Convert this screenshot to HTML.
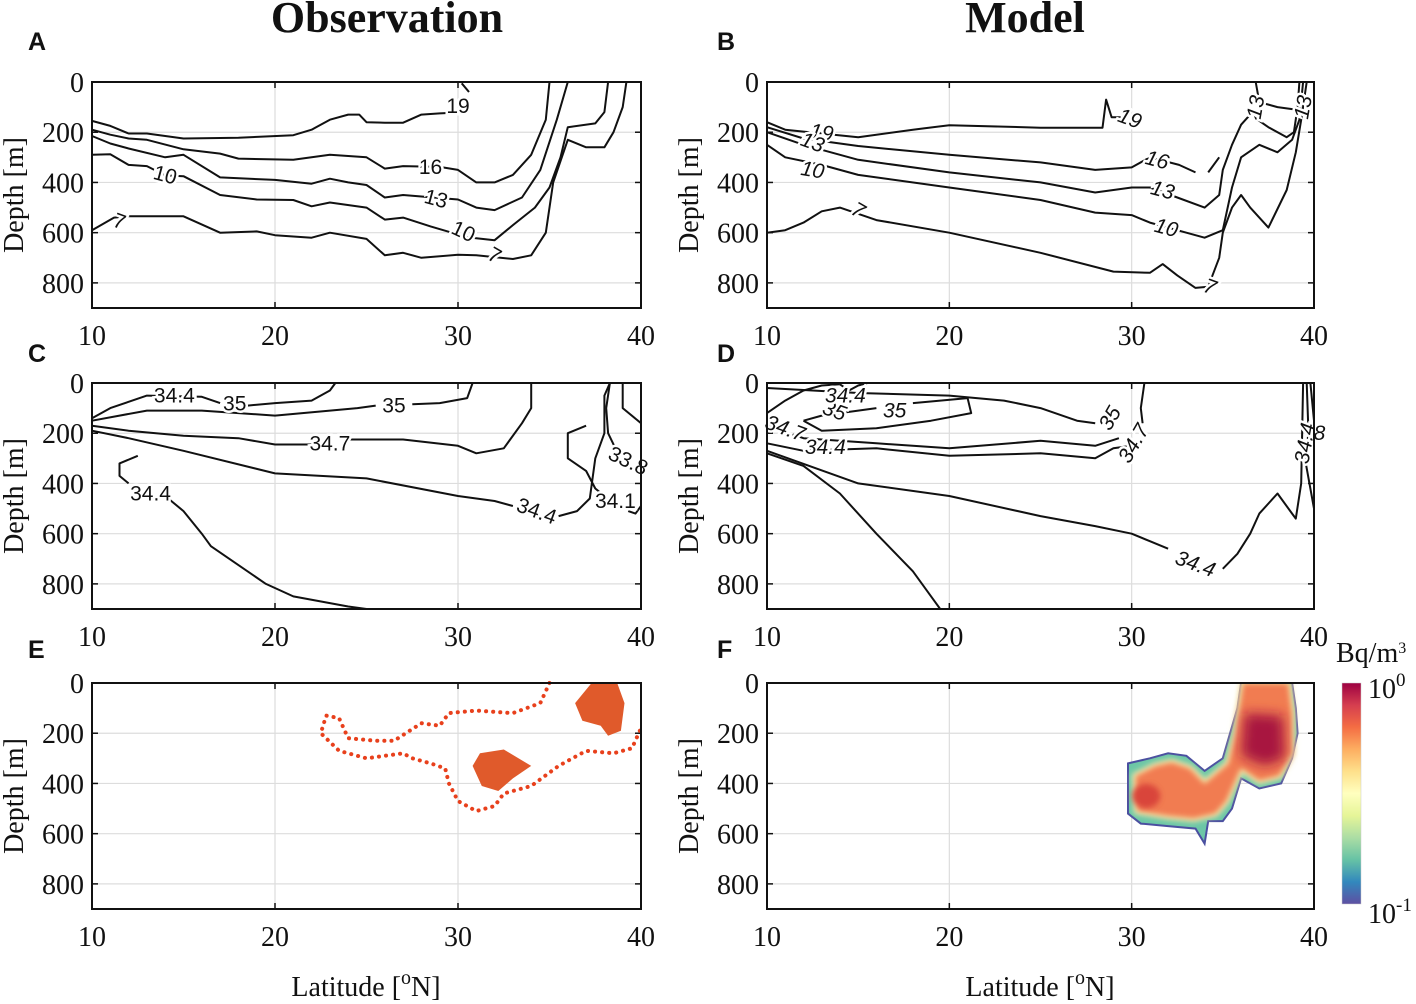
<!DOCTYPE html>
<html><head><meta charset="utf-8">
<style>
html,body{margin:0;padding:0;background:#fff;}
svg{display:block;}
.tk{font-family:"Liberation Serif",serif;font-size:28px;fill:#111;}
.ttl{font-family:"Liberation Serif",serif;font-size:44px;font-weight:bold;fill:#111;}
.let{font-family:"Liberation Sans",sans-serif;font-size:25px;font-weight:bold;fill:#111;}
.cl{font-family:"Liberation Sans",sans-serif;font-size:21px;fill:#111;stroke:#fff;stroke-width:5px;paint-order:stroke;}
.cm{font-style:italic;}
</style></head>
<body>
<svg id="fig" width="1416" height="1004" viewBox="0 0 1416 1004" xmlns="http://www.w3.org/2000/svg">
<defs>
<linearGradient id="spec" x1="0" y1="0" x2="0" y2="1">
<stop offset="0" stop-color="#9e0142"/><stop offset="0.1" stop-color="#d53e4f"/><stop offset="0.2" stop-color="#f46d43"/><stop offset="0.3" stop-color="#fdae61"/><stop offset="0.4" stop-color="#fee08b"/><stop offset="0.5" stop-color="#ffffbf"/><stop offset="0.6" stop-color="#e6f598"/><stop offset="0.7" stop-color="#abdda4"/><stop offset="0.8" stop-color="#66c2a5"/><stop offset="0.9" stop-color="#3288bd"/><stop offset="1" stop-color="#5e4fa2"/>
</linearGradient>
<filter id="bl3" x="-20%" y="-20%" width="140%" height="140%"><feGaussianBlur stdDeviation="3"/></filter>
<filter id="bl6" x="-30%" y="-30%" width="160%" height="160%"><feGaussianBlur stdDeviation="6"/></filter>
<clipPath id="clipF"><rect x="767" y="683" width="547" height="226"/></clipPath>
</defs>
<text class="ttl" x="387" y="32" text-anchor="middle">Observation</text>
<text class="ttl" x="1025" y="32" text-anchor="middle">Model</text>
</svg>
<script>
const latTicks=[10,20,30,40];
const depthTicks=[0,200,400,600,800];

const contA={
 c19:[[10,155],[11,175],[12,205],[13,205],[15,225],[18,222],[21,212],[22,190],[23,150],[24,130],[24.6,130],[25,160],[26,162],[27,162],[28,130],[29,125],[30.5,120]],
 c19b:[[30.2,5],[30.6,40]],
 c16:[[10,190],[11,210],[12,225],[13,230],[15,268],[17,285],[18,305],[21,310],[23,290],[25,300],[26,345],[27,335],[29,338],[30,350],[31,400],[32,400],[33,370],[34,290],[34.8,150],[35,0]],
 c13:[[10,215],[11,245],[12,265],[14,300],[15,290],[17,380],[20,390],[22,405],[23,385],[24,400],[25,410],[26,460],[27,450],[30,468],[31,500],[32,510],[33.5,460],[34.5,350],[35.4,150],[36,0]],
 c10:[[10,290],[11,288],[12,330],[13,335],[14,372],[15,375],[17,450],[19,468],[21,470],[22,495],[23,480],[25,500],[26,548],[27,540],[28.5,575],[30.5,618],[32,630],[33,570],[34.2,500],[35,420],[35.6,300],[36,180],[37.5,165],[38,120],[38.2,0]],
 c7:[[10,590],[11.2,540],[12,535],[15,535],[17,600],[19,595],[20,610],[22,620],[23,600],[25,625],[26,690],[27,680],[28,700],[30,688],[31,690],[33,705],[34,690],[34.8,600],[35.2,400],[36,230],[37,260],[38,260],[38.5,200],[39,100],[39.2,0]]
};
const labA=[[30,95,"19",0],[28.5,338,"16",0],[28.8,465,"13",15],[30.3,595,"10",25],[32,690,"7",30],[14,370,"10",15],[11.5,555,"7",20]];

const contB={
 c19:[[10,160],[11,190],[13,205],[15,220],[18,190],[20,172],[25,182],[28.4,182],[28.6,70],[28.9,140],[29.4,140]],
 c16:[[10,180],[12,225],[15,255],[20,290],[25,320],[28,350],[30,340],[31,300],[32.6,330],[33.5,360]],
 c16b:[[34.2,360],[34.8,300]],
 c13:[[10,200],[12,250],[15,310],[20,360],[25,400],[28,440],[30,420],[31,420],[32.5,460],[34,500],[34.8,450],[35,350],[35.5,250],[36,170],[36.5,130],[37.5,180],[38.5,220],[38.9,200],[39.1,100],[39.2,0]],
 c13b:[[36.8,0],[37,80],[38,100],[39,110]],
 c10:[[10,250],[11,300],[13,330],[15,370],[20,420],[25,470],[28,520],[30,530],[31,560],[33,600],[34,620],[35,590],[35.5,420],[36,300],[37,250],[38,280],[38.8,230],[39.2,150],[39.4,0]],
 c7:[[10,600],[11,590],[12,560],[13,515],[14,500],[16,550],[20,600],[25,680],[29,755],[31,760],[31.7,725],[32.5,770],[33.5,820],[34.2,815],[34.8,700],[35,600],[35.5,500],[36,450],[36.5,500],[37.5,580],[38.5,430],[39,280],[39.3,150],[39.6,0]]
};
const labB=[[13,200,"19",10],[12.5,240,"13",20],[12.5,350,"10",10],[15,510,"7",30],[29.9,145,"19",20],[31.4,310,"16",15],[31.7,430,"13",15],[31.9,580,"10",15],[34.3,815,"7",20],[36.8,100,"13",-80],[39.4,100,"13",-80]];

const contC={
 s344a:[[10,140],[11,100],[12,75],[13,50],[16,55],[17,80]],
 s35a:[[18.5,90],[20,80],[22,70],[23,30],[23.3,0]],
 s35b:[[10,150],[13,110],[16,110],[20,130],[24.5,100],[25.5,90]],
 s35c:[[27.5,85],[29,80],[30.5,60],[30.8,0]],
 s347:[[10,170],[12,190],[15,210],[18,220],[20,245],[22,245]],
 s347b:[[24,225],[27,225],[30,250],[31,280],[32.5,260],[33.5,160],[34,100],[34,0]],
 s344:[[10,190],[12,220],[15,270],[20,360],[25,380],[30,450],[32,470],[33,490]],
 s344b:[[35.5,530],[36.5,510],[37.2,460],[37.5,300],[38,200],[38,50],[38.3,0]],
 s344c:[[12.5,290],[11.5,320],[11.5,370],[12,400]],
 s344d:[[14,450],[15,510],[16,600],[16.5,650],[17.5,700],[19.5,800],[21,850],[24,890],[25,900]],
 s341:[[37,170],[36,200],[36,300],[37,350],[37.5,420],[38,450]],
 s341b:[[39.3,510],[39.7,520],[40,490]],
 s338:[[38.3,0],[38.1,100],[38.2,200],[38.6,260]],
 s338b:[[39,0],[39,100],[40,160]]
};
const labC=[[14.5,50,"34.4",0],[17.8,82,"35",0],[26.5,90,"35",0],[23,240,"34.7",0],[34.3,510,"34.4",20],[38.6,470,"34.1",0],[39.3,310,"33.8",25],[13.2,440,"34.4",0]];

const contD={
 d1:[[10,120],[11,70],[12,30],[13,10],[14,5]],
 d1b:[[14,5],[14.5,30],[15,10],[15.5,0]],
 d35:[[12,150],[13,130],[15,110],[16,100]],
 d35b:[[18,80],[21,60],[21.2,120],[19,150],[16,180],[13,190],[12,150]],
 d347:[[10,170],[12,220],[14,230],[16,240],[20,260],[25,230],[28,250],[29.3,220]],
 d347b:[[30.6,160],[30.5,100],[30.7,0]],
 dtop:[[10,20],[15,40],[20,50],[23,70],[25,100],[27,150],[28,160]],
 d344:[[10,240],[12,270],[16,260],[20,290],[25,280],[28,300],[29,260],[30,250]],
 d344b:[[10,270],[15,400],[20,450],[25,530],[28,570],[30,600],[31,630],[32,660]],
 d344c:[[35,740],[35.8,680],[36.5,600],[37,520],[38,440],[38.8,520],[39,540],[39.3,400],[39.4,0]],
 d344d:[[10,280],[12,330],[14,440],[16,600],[18,750],[19,850],[19.5,900]],
 dr1:[[39.6,0],[39.7,200],[39.5,300],[40,500]],
 dr2:[[39.8,0],[40,150]]
};
const labD=[[11,180,"34.7",20],[13.7,110,"35",20],[17,110,"35",0],[14.3,50,"34.4",0],[13.2,255,"34.4",0],[28.8,140,"35",-60],[30.1,240,"34.7",-60],[33.5,720,"34.4",20],[39.5,240,"34.4",-80],[40.3,200,"8",0]];

const dotE=[[35,0],[34.5,80],[33,120],[31,110],[29.5,120],[29,170],[28,160],[26.5,230],[25.5,230],[24,220],[23.5,140],[22.8,130],[22.5,200],[23.5,270],[25,300],[26,290],[27,280],[27.5,300],[28.5,320],[29.3,340],[29.5,400],[30,470],[31,510],[32,490],[32.5,440],[34,410],[35.5,330],[37,270],[38.5,280],[39.5,260],[40,180]];
const blobE1=[[37.3,0],[38.7,0],[39.1,80],[38.9,190],[38.2,210],[37.8,170],[36.8,150],[36.4,80]];
const blobE2=[[31.2,280],[32.5,265],[34,330],[33,380],[32.2,430],[31.3,410],[30.8,330]];

const fieldF=[[29.8,320],[31,300],[32,280],[33,290],[34,350],[35,300],[35.4,200],[35.8,100],[36,0],[38.8,0],[39,100],[39.1,200],[38.8,300],[38.2,400],[37,420],[36,380],[35.5,500],[35,550],[34.2,550],[34,640],[33.5,580],[32,570],[30.5,560],[29.8,520]];
const coreF=[[30.2,370],[31.3,330],[32.2,315],[33.2,340],[34,400],[35.3,320],[35.7,200],[36.1,0],[38.6,0],[38.8,120],[38.8,280],[38.1,370],[37,390],[36,340],[35.2,470],[34.6,520],[33.4,540],[32,530],[30.3,510]];
const hotF=[[36.2,120],[38.3,130],[38.4,300],[37.3,330],[36,290]];

const svg=document.getElementById('fig');
const NS='http://www.w3.org/2000/svg';
function mk(tag,attrs,parent){const e=document.createElementNS(NS,tag);for(const k in attrs)e.setAttribute(k,attrs[k]);(parent||svg).appendChild(e);return e;}

const panels=[
 {id:'a',x0:92,x1:641,y0:82,letter:'A',lx:28,ly:50},
 {id:'b',x0:767,x1:1314,y0:82,letter:'B',lx:717,ly:50},
 {id:'c',x0:92,x1:641,y0:383,letter:'C',lx:28,ly:362},
 {id:'d',x0:767,x1:1314,y0:383,letter:'D',lx:717,ly:362},
 {id:'e',x0:92,x1:641,y0:683,letter:'E',lx:28,ly:658},
 {id:'f',x0:767,x1:1314,y0:683,letter:'F',lx:717,ly:658}
];
const H=226;
function sx(p,lat){return p.x0+(lat-10)/30*(p.x1-p.x0);}
function sy(p,d){return p.y0+d/900*H;}
function pts(p,arr){return arr.map(q=>sx(p,q[0]).toFixed(1)+','+sy(p,q[1]).toFixed(1)).join(' ');}

panels.forEach(p=>{
 const g=mk('g',{});
 
 
 latTicks.slice(1,3).forEach(l=>{const e=mk('line',{x1:sx(p,l),x2:sx(p,l),y1:p.y0,y2:p.y0+H,stroke:'#ddd','stroke-width':1.2},g);
  });
 depthTicks.slice(1).forEach(d=>{const e=mk('line',{x1:p.x0,x2:p.x1,y1:sy(p,d),y2:sy(p,d),stroke:'#ddd','stroke-width':1.2},g);
  });
 latTicks.forEach(l=>{
  const t=mk('text',{class:'tk',x:sx(p,l),y:p.y0+H+37,'text-anchor':'middle'},g);t.textContent=l;
  
  mk('line',{x1:sx(p,l),x2:sx(p,l),y1:p.y0+H,y2:p.y0+H-6,stroke:'#111','stroke-width':1.5},g);
  mk('line',{x1:sx(p,l),x2:sx(p,l),y1:p.y0,y2:p.y0+6,stroke:'#111','stroke-width':1.5},g);
 });
 depthTicks.forEach(d=>{
  const t=mk('text',{class:'tk',x:p.x0-8,y:sy(p,d)+10,'text-anchor':'end'},g);t.textContent=d;
  
  mk('line',{x1:p.x0,x2:p.x0+6,y1:sy(p,d),y2:sy(p,d),stroke:'#111','stroke-width':1.5},g);
  mk('line',{x1:p.x1,x2:p.x1-6,y1:sy(p,d),y2:sy(p,d),stroke:'#111','stroke-width':1.5},g);
 });
 const yl=mk('text',{class:'tk',x:0,y:0,'text-anchor':'middle','font-size':'31',transform:`translate(${p.x0-69},${p.y0+113}) rotate(-90)`},g);
 yl.textContent='Depth [m]';
 
 const lt=mk('text',{class:'let',x:p.lx,y:p.ly},g);lt.textContent=p.letter;
 
 p.g=g;
});

function drawContours(p,cont,labs,model){
 for(const k in cont){const e=mk('polyline',{points:pts(p,cont[k]),fill:'none',stroke:'#111','stroke-width':2,'stroke-linejoin':'round'},p.g);
  }
 labs.forEach(l=>{const x=sx(p,l[0]),y=sy(p,l[1]);
  const t=mk('text',{class:'cl'+(model?' cm':''),x:x,y:y+7,'text-anchor':'middle',transform:`rotate(${l[3]} ${x} ${y})`},p.g);
  t.textContent=l[2];});
}
drawContours(panels[0],contA,labA,false);
drawContours(panels[1],contB,labB,true);
drawContours(panels[2],contC,labC,false);
drawContours(panels[3],contD,labD,true);

{const p=panels[4];
 let e=mk('polyline',{points:pts(p,dotE),fill:'none',stroke:'#e8401c','stroke-width':4,'stroke-dasharray':'0.1 7','stroke-linecap':'round'},p.g);
 
 e=mk('polygon',{points:pts(p,blobE1),fill:'#e05a2b'},p.g);
 
 e=mk('polygon',{points:pts(p,blobE2),fill:'#e05a2b'},p.g);
 
}
{const p=panels[5];
 const g=mk('g',{'clip-path':'url(#clipF)'},p.g);
 let e=mk('polygon',{points:pts(p,fieldF),fill:'#6cc6a6',stroke:'#4a4fa0','stroke-width':2},g);
 
 e=mk('polygon',{points:pts(p,coreF),fill:'#fff2a0',stroke:'#f7f3b0','stroke-width':6,filter:'url(#bl3)'},g);
 
 e=mk('polygon',{points:pts(p,coreF),fill:'#f0704a',filter:'url(#bl3)',transform:'',opacity:0.9},g);
 
 e=mk('polygon',{points:pts(p,hotF),fill:'#a8123f',filter:'url(#bl6)'},g);
 
 e=mk('ellipse',{cx:sx(p,30.8),cy:sy(p,450),rx:14,ry:12,fill:'#d9443a',filter:'url(#bl3)'},g);
 
 const cb=mk('rect',{x:1342,y:683,width:19,height:221,fill:'url(#spec)',stroke:'#ccc','stroke-width':0.5},svg);
 
 let t=mk('text',{class:'tk',x:1368,y:698},svg);t.innerHTML='10<tspan dy="-12" font-size="19">0</tspan>';
 
 t=mk('text',{class:'tk',x:1368,y:923},svg);t.innerHTML='10<tspan dy="-12" font-size="19">-1</tspan>';
 
 t=mk('text',{class:'tk',x:1336,y:662,'font-size':'24'},svg);t.innerHTML='Bq/m<tspan dy="-9" font-size="16">3</tspan>';
 
}
panels.forEach(p=>{const f=mk('rect',{x:p.x0,y:p.y0,width:p.x1-p.x0,height:H,fill:'none',stroke:'#111','stroke-width':2},p.g);
 });
[366,1040].forEach(cx=>{const t=mk('text',{class:'tk',x:cx,y:996,'text-anchor':'middle','font-size':'31'},svg);
 t.innerHTML='Latitude [<tspan dy="-12" font-size="20">o</tspan><tspan dy="12">N]</tspan>';
 });
</script>
</body></html>
